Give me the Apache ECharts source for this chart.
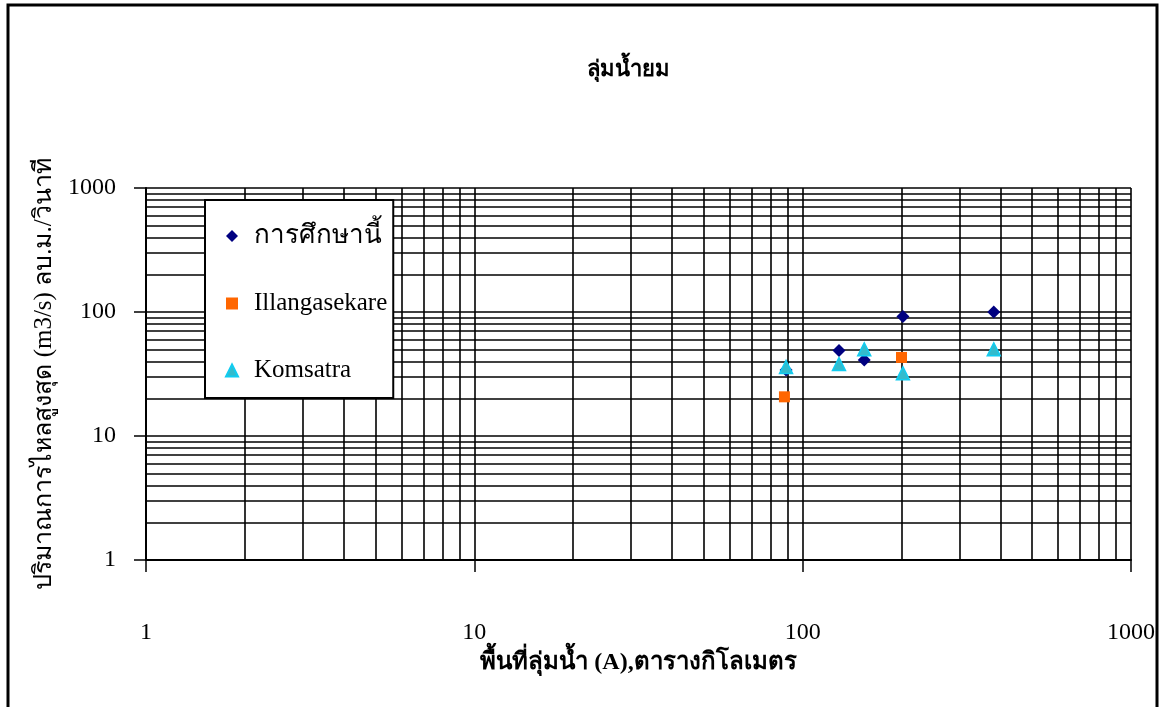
<!DOCTYPE html>
<html><head><meta charset="utf-8">
<script src="https://cdn.jsdelivr.net/npm/echarts@6/dist/echarts.min.js"></script>
<style>html,body{margin:0;padding:0;background:#fff}#c{width:1161px;height:707px}</style>
</head><body><div id="c"></div>
<script>
var chartTitle = 'ลุ่มน้ำยม';
var xTitle = 'พื้นที่ลุ่มน้ำ (A),ตารางกิโลเมตร';
var yTitle = 'ปริมาณการไหลสูงสุด (m3/s) ลบ.ม./วินาที';
var seriesNames = ['การศึกษานี้', 'Illangasekare', 'Komsatra'];
var studyData = [[89, 34], [129, 49], [154, 41], [202, 92], [382, 100]];
var illangData = [[88, 20.7], [200, 43]];
var komsatraData = [[89, 36], [129, 38], [154, 50], [202, 32], [382, 50]];
var xMinorLines = [2,3,4,5,6,7,8,9,20,30,40,50,60,70,80,90,200,300,400,500,600,700,800,900];
var yMinorLines = [2,3,4,5,6,7,8,9,20,30,40,50,60,70,80,90,200,300,400,500,600,700,800,900];

var FONT = '"Liberation Serif","Times New Roman",serif';
var gridLines = [];
xMinorLines.forEach(function (v) { gridLines.push({ xAxis: v }); });
yMinorLines.forEach(function (v) { gridLines.push({ yAxis: v }); });

var chart = echarts.init(document.getElementById('c'));
chart.setOption({
  backgroundColor: '#fff',
  animation: false,
  title: {
    text: chartTitle, left: 623, top: 54, textAlign: 'center',
    textStyle: { fontFamily: FONT, fontSize: 22, fontWeight: 'bold', color: '#000' }
  },
  graphic: [{
    type: 'rect', shape: { x: 8, y: 5, width: 1149, height: 710 },
    style: { fill: 'none', stroke: '#000', lineWidth: 3 }, silent: true, z: 100
  }],
  grid: { left: 146, right: 30, top: 188, bottom: 147, containLabel: false },
  legend: {
    orient: 'vertical', left: 205, top: 200, z: 20,
    data: [
      { name: seriesNames[0], icon: 'diamond' },
      { name: seriesNames[1], icon: 'rect' },
      { name: seriesNames[2], icon: 'triangle' }
    ],
    backgroundColor: '#fff', borderColor: '#000', borderWidth: 2,
    padding: [23, 6, 15, 20],
    itemWidth: 12, itemHeight: 12, itemGap: 42,
    formatter: function (n) { return n === seriesNames[0] ? '{th|' + n + '}' : n; },
    textStyle: {
      fontFamily: FONT, fontSize: 25, color: '#000', lineHeight: 24, padding: [0, 0, 0, 11],
      rich: { th: { fontFamily: FONT, fontSize: 26, color: '#000', lineHeight: 24 } }
    }
  },
  xAxis: {
    type: 'log', min: 1, max: 1000, logBase: 10,
    name: xTitle, nameLocation: 'middle', nameGap: 91,
    nameTextStyle: { fontFamily: FONT, fontSize: 24, fontWeight: 'bold', color: '#000' },
    axisLine: { lineStyle: { color: '#000', width: 2 } },
    axisTick: { show: true, inside: false, length: 12, lineStyle: { color: '#000', width: 1.5 } },
    axisLabel: { margin: 61, fontFamily: FONT, fontSize: 24, color: '#000',
      formatter: function (v) { return String(Math.round(v)); } },
    splitLine: { show: true, lineStyle: { color: '#000', width: 1.6 } },
    minorTick: { show: false }, minorSplitLine: { show: false }
  },
  yAxis: {
    type: 'log', min: 1, max: 1000, logBase: 10,
    name: yTitle, nameLocation: 'middle', nameGap: 88, nameRotate: 90,
    nameTextStyle: { fontFamily: FONT, fontSize: 25, color: '#000' },
    axisLine: { lineStyle: { color: '#000', width: 2 } },
    axisTick: { show: true, inside: false, length: 12, lineStyle: { color: '#000', width: 1.5 } },
    axisLabel: { margin: 30, fontFamily: FONT, fontSize: 24, color: '#000',
      formatter: function (v) { return String(Math.round(v)); } },
    splitLine: { show: true, lineStyle: { color: '#000', width: 1.6 } },
    minorTick: { show: false }, minorSplitLine: { show: false }
  },
  series: [
    {
      name: 'gridlines', type: 'scatter', data: [[1, 1]], symbolSize: 0, silent: true, z: 1,
      markLine: {
        silent: true, symbol: ['none', 'none'], label: { show: false },
        lineStyle: { color: '#000', width: 1.6, type: 'solid' },
        emphasis: { disabled: true },
        data: gridLines, animation: false
      }
    },
    {
      name: seriesNames[0], type: 'scatter', data: studyData, symbol: 'diamond', symbolSize: 13, z: 5,
      itemStyle: { color: '#000080', opacity: 1 }
    },
    {
      name: seriesNames[1], type: 'scatter', data: illangData, symbol: 'rect', symbolSize: 11, z: 5,
      itemStyle: { color: '#FF6600', opacity: 1 }
    },
    {
      name: seriesNames[2], type: 'scatter', data: komsatraData, symbol: 'triangle', symbolSize: 13, z: 6,
      itemStyle: { color: '#33BBCC', borderColor: '#11CCF0', borderWidth: 1.5, opacity: 1 }
    }
  ]
});
</script></body></html>
